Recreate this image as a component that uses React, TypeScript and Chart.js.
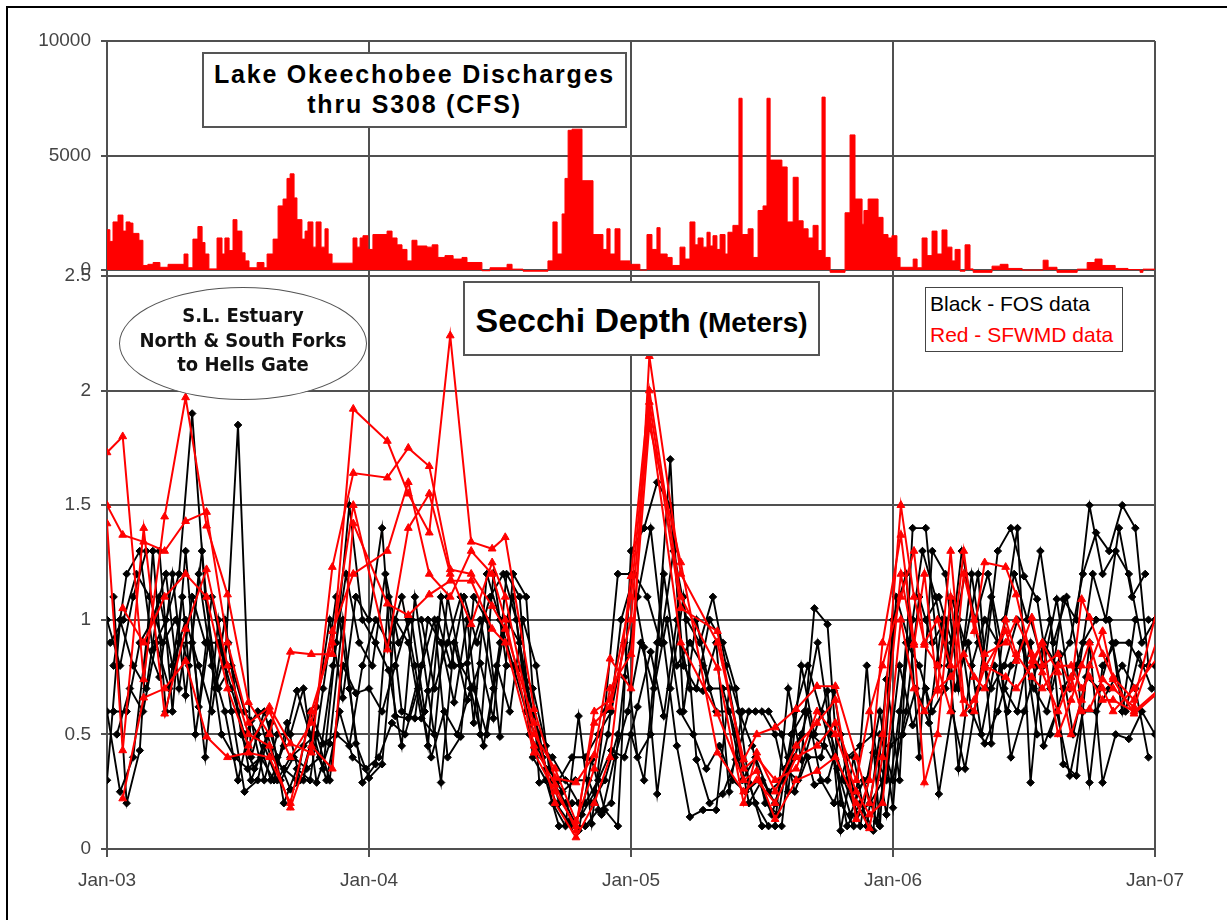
import React, { useEffect, useRef } from 'react';
import { Chart, registerables } from 'chart.js';

Chart.register(...registerables);

// ---------- tick labels ----------
const xTickValues = [2003, 2004, 2005, 2006, 2007];
const xTickLabels = ['Jan-03', 'Jan-04', 'Jan-05', 'Jan-06', 'Jan-07'];
const flowTickValues = [0, 5000, 10000];
const flowTickLabels = ['0', '5000', '10000'];
const secchiTickValues = [0, 0.5, 1, 1.5, 2, 2.5];
const secchiTickLabels = ['0', '0.5', '1', '1.5', '2', '2.5'];

// ---------- Lake Okeechobee discharge thru S308 (CFS) ----------
const dischargeDates = [
  2003.000, 2003.011, 2003.023, 2003.042, 2003.061, 2003.073, 2003.088, 2003.099, 2003.122, 2003.137,
  2003.156, 2003.176, 2003.202, 2003.233, 2003.294, 2003.309, 2003.328, 2003.347, 2003.363, 2003.374,
  2003.389, 2003.420, 2003.439, 2003.450, 2003.466, 2003.481, 2003.496, 2003.515, 2003.527, 2003.542,
  2003.573, 2003.599, 2003.611, 2003.634, 2003.653, 2003.672, 2003.687, 2003.699, 2003.714, 2003.725,
  2003.744, 2003.756, 2003.767, 2003.786, 2003.798, 2003.817, 2003.832, 2003.844, 2003.859, 2003.939,
  2003.954, 2003.966, 2003.977, 2003.996, 2004.015, 2004.069, 2004.088, 2004.107, 2004.126, 2004.145,
  2004.164, 2004.183, 2004.221, 2004.241, 2004.263, 2004.290, 2004.321, 2004.355, 2004.374, 2004.431,
  2004.462, 2004.527, 2004.546, 2004.588, 2004.683, 2004.702, 2004.718, 2004.737, 2004.748, 2004.760,
  2004.775, 2004.813, 2004.855, 2004.893, 2004.908, 2004.920, 2004.939, 2004.958, 2004.996, 2005.034,
  2005.061, 2005.080, 2005.099, 2005.111, 2005.138, 2005.157, 2005.187, 2005.206, 2005.225, 2005.244,
  2005.256, 2005.275, 2005.290, 2005.302, 2005.313, 2005.328, 2005.340, 2005.359, 2005.370, 2005.389,
  2005.412, 2005.424, 2005.447, 2005.466, 2005.485, 2005.504, 2005.519, 2005.531, 2005.576, 2005.596,
  2005.619, 2005.638, 2005.657, 2005.676, 2005.695, 2005.714, 2005.729, 2005.741, 2005.760, 2005.817,
  2005.836, 2005.855, 2005.882, 2005.889, 2005.905, 2005.943, 2005.962, 2005.981, 2005.996, 2006.015,
  2006.027, 2006.077, 2006.092, 2006.111, 2006.130, 2006.149, 2006.168, 2006.187, 2006.206, 2006.225,
  2006.237, 2006.256, 2006.275, 2006.294, 2006.306, 2006.378, 2006.409, 2006.439, 2006.493, 2006.573,
  2006.592, 2006.626, 2006.703, 2006.741, 2006.771, 2006.798, 2006.848, 2006.897, 2006.943, 2006.954,
  2007.000,
];
const dischargeCfs = [
  1760, 1250, 2100, 2400, 1700, 2100, 2050, 1600, 1300, 200,
  250, 330, 120, 250, 700, 100, 1350, 1900, 1200, 700,
  50, 1400, 700, 1400, 850, 2200, 1700, 750, 400, 100,
  330, 100, 700, 1350, 2800, 3100, 4000, 4200, 3150, 2200,
  1350, 1700, 2100, 1000, 2100, 1000, 1800, 700, 300, 1400,
  1000, 1400, 1500, 900, 1550, 1700, 1400, 1100, 900, 400,
  1300, 1050, 1000, 1100, 550, 630, 480, 550, 330, -30,
  100, 250, 40, -50, 400, 2100, 700, 2450, 4000, 6100,
  6150, 3900, 1550, 900, 1800, 700, 1800, 400, 250, 0,
  1550, 900, 1850, 700, 550, 200, 1000, 480, 2100, 1100,
  1400, 1000, 1650, 1050, 1500, 900, 1550, 700, 1650, 1950,
  7500, 1550, 1800, 550, 2600, 2800, 7500, 4800, 4500, 2100,
  4050, 2150, 1800, 1400, 1950, 850, 7550, 550, -100, 2500,
  5900, 3100, 2000, 2600, 3100, 2300, 1550, 1400, 1500, 550,
  120, 480, 100, 1400, 630, 1700, 700, 1750, 1000, 400,
  900, -50, 1100, 50, -100, 170, 250, 70, 0, 430,
  120, -100, 40, 330, 480, 200, 70, 20, -100, 40,
  40,
];

// ---------- Secchi depth, FOS stations (black) ----------
const fosDatesA = [
  2003.00, 2003.05, 2003.10, 2003.15, 2003.20, 2003.25, 2003.30, 2003.35, 2003.40, 2003.45,
  2003.50, 2003.55, 2003.60, 2003.65, 2003.70, 2003.75, 2003.80, 2003.85, 2003.90, 2003.95,
  2004.00, 2004.05, 2004.10, 2004.15, 2004.20, 2004.25, 2004.30, 2004.35, 2004.40, 2004.45,
  2004.50, 2004.55, 2004.60, 2004.65, 2004.70, 2004.75, 2004.80, 2004.85, 2004.90, 2004.95,
  2005.00, 2005.05, 2005.10, 2005.15, 2005.20, 2005.25, 2005.30, 2005.35, 2005.40, 2005.45,
  2005.50, 2005.55, 2005.60, 2005.65, 2005.70, 2005.75, 2005.80, 2005.85, 2005.90, 2005.95,
  2006.00, 2006.05, 2006.10, 2006.15, 2006.20, 2006.25, 2006.30, 2006.35, 2006.40, 2006.45,
  2006.50, 2006.55, 2006.60, 2006.65, 2006.70, 2006.75, 2006.80, 2006.85, 2006.90, 2006.95,
  2007.00,
];
const fosDatesB = [
  2003.025, 2003.075, 2003.125, 2003.175, 2003.225, 2003.275, 2003.325, 2003.375, 2003.425, 2003.475,
  2003.525, 2003.575, 2003.625, 2003.675, 2003.725, 2003.775, 2003.825, 2003.875, 2003.925, 2003.975,
  2004.025, 2004.075, 2004.125, 2004.175, 2004.225, 2004.275, 2004.325, 2004.375, 2004.425, 2004.475,
  2004.525, 2004.575, 2004.625, 2004.675, 2004.725, 2004.775, 2004.825, 2004.875, 2004.925, 2004.975,
  2005.025, 2005.075, 2005.125, 2005.175, 2005.225, 2005.275, 2005.325, 2005.375, 2005.425, 2005.475,
  2005.525, 2005.575, 2005.625, 2005.675, 2005.725, 2005.775, 2005.825, 2005.875, 2005.925, 2005.975,
  2006.025, 2006.075, 2006.125, 2006.175, 2006.225, 2006.275, 2006.325, 2006.375, 2006.425, 2006.475,
  2006.525, 2006.575, 2006.625, 2006.675, 2006.725, 2006.775, 2006.825, 2006.875, 2006.925, 2006.975,
];
const fosDatesC = [
  2003.0125, 2003.0625, 2003.1125, 2003.1625, 2003.2125, 2003.2625, 2003.3125, 2003.3625, 2003.4125, 2003.4625,
  2003.5125, 2003.5625, 2003.6125, 2003.6625, 2003.7125, 2003.7625, 2003.8125, 2003.8625, 2003.9125, 2003.9625,
  2004.0125, 2004.0625, 2004.1125, 2004.1625, 2004.2125, 2004.2625, 2004.3125, 2004.3625, 2004.4125, 2004.4625,
  2004.5125, 2004.5625, 2004.6125, 2004.6625, 2004.7125, 2004.7625, 2004.8125, 2004.8625, 2004.9125, 2004.9625,
  2005.0125, 2005.0625, 2005.1125, 2005.1625, 2005.2125, 2005.2625, 2005.3125, 2005.3625, 2005.4125, 2005.4625,
  2005.5125, 2005.5625, 2005.6125, 2005.6625, 2005.7125, 2005.7625, 2005.8125, 2005.8625, 2005.9125, 2005.9625,
  2006.0125, 2006.0625, 2006.1125, 2006.1625, 2006.2125, 2006.2625, 2006.3125, 2006.3625, 2006.4125, 2006.4625,
  2006.5125, 2006.5625, 2006.6125, 2006.6625, 2006.7125, 2006.7625, 2006.8125, 2006.8625, 2006.9125, 2006.9625,
];
const fosDatesD = [
  2003.0375, 2003.0875, 2003.1375, 2003.1875, 2003.2375, 2003.2875, 2003.3375, 2003.3875, 2003.4375, 2003.4875,
  2003.5375, 2003.5875, 2003.6375, 2003.6875, 2003.7375, 2003.7875, 2003.8375, 2003.8875, 2003.9375, 2003.9875,
  2004.0375, 2004.0875, 2004.1375, 2004.1875, 2004.2375, 2004.2875, 2004.3375, 2004.3875, 2004.4375, 2004.4875,
  2004.5375, 2004.5875, 2004.6375, 2004.6875, 2004.7375, 2004.7875, 2004.8375, 2004.8875, 2004.9375, 2004.9875,
  2005.0375, 2005.0875, 2005.1375, 2005.1875, 2005.2375, 2005.2875, 2005.3375, 2005.3875, 2005.4375, 2005.4875,
  2005.5375, 2005.5875, 2005.6375, 2005.6875, 2005.7375, 2005.7875, 2005.8375, 2005.8875, 2005.9375, 2005.9875,
  2006.0375, 2006.0875, 2006.1375, 2006.1875, 2006.2375, 2006.2875, 2006.3375, 2006.3875, 2006.4375, 2006.4875,
  2006.5375, 2006.5875, 2006.6375, 2006.6875, 2006.7375, 2006.7875, 2006.8375, 2006.8875, 2006.9375, 2006.9875,
];
const fosA1 = [
  1.0, 0.8, 1.1, 1.3, 1.3, 0.6, 1.3, 0.62, 1.1, 0.8, 1.85, 0.4, 0.6, 0.4, 0.26, 0.3, 0.62, 1.0, 0.66, 1.1,
  1.0, 1.4, 0.58, 0.57, 0.8, 1.0, 0.4, 0.49, 1.1, 1.0, 0.49, 1.2, 1.1, 0.29, 0.3, 0.2, 0.08, 0.39, 0.17, 0.1,
  1.3, 1.4, 1.6, 1.5, 0.8, 0.7, 1.0, 0.9, 0.7, 0.29, 0.1, 0.1, 0.7, 0.39, 1.05, 0.98, 0.2, 0.1, 0.8, 0.1,
  1.0, 1.2, 0.4, 1.3, 1.2, 0.7, 1.2, 0.8, 1.3, 1.4, 1.19, 1.09, 0.7, 1.09, 1.0, 1.5, 1.2, 1.3, 1.2, 0.9,
  1.0,
];
const fosA2 = [
  0.6, 0.25, 0.4, 0.9, 0.75, 1.2, 0.67, 1.2, 0.8, 0.6, 0.3, 0.56, 0.3, 0.5, 0.5, 0.7, 0.29, 0.46, 1.0, 0.46,
  0.31, 0.37, 1.0, 0.9, 0.57, 0.5, 1.1, 0.8, 0.7, 0.5, 0.9, 1.1, 0.7, 0.5, 0.2, 0.1, 0.58, 0.11, 0.6, 1.2,
  1.2, 0.88, 0.24, 0.7, 1.1, 0.39, 0.2, 0.24, 0.39, 0.6, 0.6, 0.5, 0.25, 0.8, 0.5, 0.69, 0.08, 0.4, 0.1, 0.5,
  0.3, 0.6, 1.1, 0.9, 1.0, 0.35, 0.8, 1.0, 0.9, 0.4, 0.6, 0.8, 1.0, 0.37, 0.32, 0.9, 0.29, 0.5, 0.48, 0.6,
  0.5,
];
const fosA3 = [
  0.3, 1.0, 0.8, 0.7, 1.1, 0.8, 1.0, 0.8, 0.6, 1.0, 0.6, 0.3, 0.45, 0.3, 0.4, 0.45, 0.5, 0.3, 0.8, 0.68,
  0.7, 0.6, 0.8, 1.0, 1.0, 0.7, 0.9, 1.1, 0.55, 1.2, 1.0, 0.8, 0.6, 0.45, 0.4, 0.3, 0.2, 0.2, 0.3, 0.5,
  0.5, 0.3, 0.9, 1.7, 0.6, 1.0, 0.7, 0.7, 0.5, 0.2, 0.3, 0.2, 0.4, 0.5, 0.28, 0.3, 0.5, 0.25, 0.3, 0.6,
  0.18, 0.9, 0.8, 0.6, 0.7, 1.0, 0.6, 0.46, 0.6, 0.8, 0.9, 0.5, 0.5, 0.7, 0.8, 0.29, 0.8, 0.9, 0.9, 0.8,
  0.8,
];
const fosB1 = [
  0.8, 1.2, 1.3, 0.87, 1.0, 1.2, 1.9, 1.1, 0.7, 0.8, 0.6, 0.5, 0.3, 0.45, 0.69, 0.5, 0.35, 0.9, 1.5, 1.0,
  0.9, 0.78, 0.45, 1.1, 0.69, 0.29, 0.9, 0.65, 0.81, 0.57, 1.2, 1.1, 0.4, 0.3, 0.1, 0.1, 0.1, 0.17, 0.2, 0.75,
  1.1, 1.4, 0.9, 0.45, 0.14, 0.17, 0.17, 0.7, 0.39, 0.2, 0.1, 0.1, 0.6, 0.8, 0.6, 0.4, 0.1, 0.2, 0.08, 0.74,
  0.3, 1.4, 1.4, 0.8, 1.09, 0.9, 1.2, 0.46, 1.0, 1.4, 0.29, 0.9, 0.8, 0.9, 1.2, 1.38, 1.3, 1.5, 1.4, 0.8,
];
const fosB2 = [
  1.1, 0.2, 0.43, 1.3, 0.6, 0.9, 0.9, 0.4, 1.0, 0.6, 0.25, 0.3, 0.55, 0.2, 0.35, 0.3, 0.7, 1.1, 0.7, 0.29,
  0.37, 1.1, 0.6, 0.57, 1.0, 0.9, 0.64, 1.0, 0.5, 1.2, 0.8, 0.79, 0.7, 0.45, 0.2, 0.2, 0.2, 0.3, 0.43, 0.4,
  0.62, 0.86, 0.58, 1.0, 0.7, 0.69, 0.9, 0.25, 0.6, 0.6, 0.6, 0.5, 0.25, 0.4, 0.4, 0.69, 0.3, 0.1, 0.42, 0.3,
  0.8, 0.54, 0.7, 0.24, 0.6, 0.35, 0.7, 1.1, 0.7, 0.6, 0.9, 0.45, 0.6, 0.32, 0.6, 0.6, 0.7, 0.8, 0.7, 0.4,
];
const fosB3 = [
  0.6, 0.6, 0.9, 1.0, 1.2, 0.7, 1.1, 0.9, 0.9, 0.7, 0.5, 0.6, 0.4, 0.35, 0.3, 0.6, 0.46, 0.5, 0.45, 0.8,
  1.0, 0.9, 1.1, 0.8, 0.45, 1.1, 0.8, 0.81, 1.0, 0.7, 1.0, 0.9, 0.59, 0.35, 0.3, 0.4, 0.4, 0.5, 0.6, 0.9,
  0.4, 0.5, 1.2, 0.8, 0.9, 0.8, 0.6, 0.6, 0.3, 0.4, 0.25, 0.3, 0.4, 0.6, 0.3, 0.2, 0.4, 0.45, 0.5, 0.15,
  0.6, 1.0, 1.0, 1.1, 0.9, 1.2, 0.9, 0.7, 0.8, 1.0, 1.0, 0.8, 1.09, 0.7, 0.9, 1.0, 1.0, 0.6, 1.0, 1.0,
];
const fosC1 = [
  0.9, 1.0, 1.2, 1.1, 0.9, 1.0, 0.8, 1.3, 0.7, 0.9, 0.5, 0.35, 0.5, 0.3, 0.4, 0.35, 0.4, 0.8, 1.2, 0.9,
  0.8, 1.2, 0.9, 1.0, 0.6, 1.0, 0.8, 1.1, 0.9, 1.1, 1.2, 1.0, 0.5, 0.4, 0.2, 0.12, 0.15, 0.25, 0.5, 1.0,
  1.2, 1.1, 0.9, 1.3, 1.0, 0.9, 1.1, 0.8, 0.6, 0.45, 0.2, 0.15, 0.5, 0.6, 0.9, 0.5, 0.3, 0.15, 0.2, 0.3,
  1.1, 0.9, 1.3, 1.1, 0.8, 1.3, 1.0, 1.2, 0.9, 1.2, 1.0, 1.3, 0.9, 1.1, 0.8, 1.2, 1.0, 1.4, 1.1, 1.2,
];
const fosC2 = [
  0.5, 0.7, 0.6, 0.9, 0.7, 1.1, 0.5, 0.9, 0.5, 0.4, 0.35, 0.4, 0.3, 0.55, 0.3, 0.5, 0.3, 0.6, 0.4, 0.35,
  0.4, 0.55, 0.5, 0.7, 0.4, 0.6, 0.5, 0.7, 0.45, 0.8, 0.6, 1.0, 0.8, 0.35, 0.25, 0.3, 0.3, 0.15, 0.4, 0.6,
  0.9, 0.7, 1.0, 0.6, 0.5, 0.35, 0.45, 0.3, 0.25, 0.3, 0.15, 0.35, 0.3, 0.5, 0.45, 0.35, 0.15, 0.3, 0.12, 0.45,
  0.5, 0.7, 0.55, 1.0, 0.7, 0.9, 0.5, 0.8, 0.6, 0.9, 0.7, 0.6, 0.85, 0.5, 0.75, 0.7, 0.9, 0.6, 0.85, 0.7,
];

// ---------- Secchi depth, SFWMD stations (red) ----------
const sfwmdDates = [
  2003.00, 2003.06, 2003.14, 2003.22, 2003.30, 2003.38, 2003.46, 2003.54, 2003.62, 2003.70, 2003.78, 2003.86, 2003.94,
  2004.07, 2004.15, 2004.23, 2004.31, 2004.39, 2004.47, 2004.52, 2004.63, 2004.71, 2004.79, 2004.86, 2004.92,
  2005.00, 2005.07, 2005.19, 2005.33, 2005.43, 2005.48, 2005.55, 2005.63, 2005.71, 2005.78, 2005.86, 2005.91, 2005.96,
  2006.03, 2006.08, 2006.12, 2006.17, 2006.22, 2006.27, 2006.31, 2006.35, 2006.43, 2006.47, 2006.53, 2006.57,
  2006.63, 2006.68, 2006.72, 2006.75, 2006.80, 2006.84, 2006.92, 2007.02,
];
const sfwmdR1 = [
  1.73, 1.80, 0.74, 1.45, 1.97, 1.41, 1.11, 0.64, 0.50, 0.86, 0.85, 0.85, 1.92,
  1.78, 1.55, 1.38, 2.24, 1.34, 1.31, 1.36, 0.61, 0.31, 0.29, 0.41, 0.83,
  0.70, 2.15, 1.20, 0.90, 0.39, 0.50, 0.53, 0.61, 0.71, 0.71, 0.40, 0.20, 0.50,
  1.50, 1.10, 0.90, 1.00, 0.80, 1.30, 0.95, 1.25, 1.23, 1.11, 0.82, 0.90, 0.77, 0.50, 0.65, 0.80, 0.95, 0.74, 0.59, 0.69,
];
const sfwmdR2 = [
  1.50, 1.37, 1.34, 1.30, 1.43, 1.47, 0.90, 0.55, 0.62, 0.46, 0.42, 1.23, 1.64,
  1.62, 1.75, 1.67, 1.22, 1.20, 1.06, 0.96, 0.55, 0.20, 0.05, 0.20, 0.40,
  1.19, 2.00, 1.10, 0.79, 0.20, 0.42, 0.25, 0.45, 0.55, 0.65, 0.13, 0.30, 0.90,
  1.37, 0.90, 0.29, 0.50, 1.10, 0.59, 0.65, 0.79, 0.95, 0.82, 1.01, 0.80, 0.85, 0.70, 1.09, 1.01, 0.85, 0.75, 0.65, 1.10,
];
const sfwmdR3 = [
  1.42, 0.43, 1.40, 0.59, 0.96, 1.22, 0.80, 0.50, 0.45, 0.18, 0.45, 0.35, 1.42,
  1.07, 1.02, 1.11, 1.17, 1.17, 0.96, 0.90, 0.42, 0.25, 0.10, 0.55, 0.62,
  1.00, 1.90, 0.90, 0.59, 0.30, 0.34, 0.13, 0.30, 0.34, 0.40, 0.20, 0.09, 0.40,
  1.20, 0.89, 1.20, 0.69, 1.30, 0.65, 0.60, 0.85, 0.90, 1.00, 0.85, 0.77, 0.60, 0.75, 0.60, 0.61, 0.74, 0.70, 0.62, 0.95,
];
const sfwmdR4 = [
  null, 0.22, 0.66, 0.70, 0.82, 0.49, 0.40, 0.42, 0.40, 0.20, 0.60, 0.90, 1.50,
  0.87, 1.40, 1.55, 1.20, 0.98, 1.25, 1.10, 0.50, 0.35, 0.12, 0.35, 0.70,
  0.85, 1.85, 1.25, 0.42, 0.25, 0.30, 0.20, 0.40, 0.45, 0.55, 0.30, 0.60, 0.80,
  1.10, 1.30, 0.89, 0.80, 0.60, 1.20, 1.00, 0.80, 0.75, 0.70, 0.80, 0.90, 0.50, 0.65, 0.80, 0.90, 0.70, 0.60, 0.70, 0.85,
];
const sfwmdR5 = [
  null, 1.05, 0.90, 1.10, 1.20, 1.10, 0.70, 0.45, 0.60, 0.40, 0.55, 0.95, 1.20,
  1.30, 1.60, 1.20, 1.10, 1.30, 1.20, 1.00, 0.45, 0.28, 0.08, 0.60, 0.65,
  1.10, 1.95, 1.05, 0.95, 0.35, 0.40, 0.30, 0.35, 0.60, 0.50, 0.25, 0.15, 0.20,
  1.00, 0.70, 0.60, 0.70, 0.75, 0.85, 0.75, 0.70, 1.00, 0.85, 0.75, 0.70, 0.80, 0.80, 0.70, 0.75, 0.65, 0.65, 0.60, 0.70,
];

const FONT = "'Liberation Sans', Arial, Helvetica, sans-serif";
const NARROW = "'Liberation Sans Narrow', 'Arial Narrow', 'DejaVu Sans Condensed', sans-serif";
const GRID = '#505050';
const TICK_TEXT = '#444444';

function pairs(xs: number[], ys: (number | null)[]) {
  const out: { x: number; y: number }[] = [];
  xs.forEach((x, i) => {
    const y = ys[i];
    if (y !== null && y !== undefined) out.push({ x, y });
  });
  return out;
}

function fosDataset(label: string, xs: number[], ys: number[]) {
  return {
    type: 'line' as const,
    label,
    xAxisID: 'x',
    yAxisID: 'ySecchi',
    data: pairs(xs, ys),
    borderColor: '#000000',
    borderWidth: 1.9,
    pointStyle: 'rectRot' as const,
    pointRadius: 3.8,
    pointBackgroundColor: '#000000',
    pointBorderColor: '#000000',
    pointBorderWidth: 1,
    tension: 0,
    fill: false,
    order: 2,
  };
}

function sfwmdDataset(label: string, ys: (number | null)[]) {
  return {
    type: 'line' as const,
    label,
    xAxisID: 'x',
    yAxisID: 'ySecchi',
    data: pairs(sfwmdDates, ys),
    borderColor: '#ff0000',
    borderWidth: 2,
    pointStyle: 'triangle' as const,
    pointRadius: 4.5,
    pointBackgroundColor: '#ff0000',
    pointBorderColor: '#ff0000',
    pointBorderWidth: 1,
    tension: 0,
    fill: false,
    spanGaps: true,
    order: 1,
  };
}

export default function App() {
  const canvasRef = useRef<HTMLCanvasElement>(null);

  useEffect(() => {
    if (!canvasRef.current) return;
    const tickFont = { family: FONT, size: 19 };
    const chart = new Chart(canvasRef.current, {
      type: 'line',
      data: {
        datasets: [
          sfwmdDataset('SFWMD 1', sfwmdR1),
          sfwmdDataset('SFWMD 2', sfwmdR2),
          sfwmdDataset('SFWMD 3', sfwmdR3),
          sfwmdDataset('SFWMD 4', sfwmdR4),
          sfwmdDataset('SFWMD 5', sfwmdR5),
          fosDataset('FOS A1', fosDatesA, fosA1),
          fosDataset('FOS A2', fosDatesA, fosA2),
          fosDataset('FOS A3', fosDatesA, fosA3),
          fosDataset('FOS B1', fosDatesB, fosB1),
          fosDataset('FOS B2', fosDatesB, fosB2),
          fosDataset('FOS B3', fosDatesB, fosB3),
          fosDataset('FOS C1', fosDatesC, fosC1),
          fosDataset('FOS C2', fosDatesD, fosC2),
          {
            type: 'line',
            label: 'S308 discharge',
            xAxisID: 'x',
            yAxisID: 'yFlow',
            data: pairs(dischargeDates, dischargeCfs),
            stepped: true,
            fill: 'origin',
            backgroundColor: '#ff0000',
            borderColor: '#ff0000',
            borderWidth: 1,
            pointRadius: 0,
            order: 3,
          } as any,
        ],
      },
      options: {
        responsive: false,
        animation: false,
        events: [],
        layout: { padding: { left: 0, top: 41, right: 72, bottom: 0 } },
        plugins: {
          legend: { display: false },
          tooltip: { enabled: false },
          title: { display: false },
        },
        scales: {
          x: {
            type: 'linear',
            position: 'bottom',
            min: 2003,
            max: 2007,
            afterBuildTicks: (s: any) => {
              s.ticks = xTickValues.map((v) => ({ value: v }));
            },
            afterFit: (s: any) => {
              s.height = 71;
            },
            ticks: {
              autoSkip: false,
              maxRotation: 0,
              padding: 12,
              color: TICK_TEXT,
              font: tickFont,
              callback: (_v: any, i: number) => xTickLabels[i],
            },
            grid: { color: GRID, lineWidth: 2, tickLength: 8, drawTicks: true },
            border: { color: GRID, width: 2 },
          },
          ySecchi: {
            type: 'linear',
            position: 'left',
            stack: 'panels',
            stackWeight: 573,
            min: 0,
            max: 2.5,
            afterBuildTicks: (s: any) => {
              s.ticks = secchiTickValues.map((v) => ({ value: v }));
            },
            afterFit: (s: any) => {
              s.width = 107;
            },
            ticks: {
              padding: 10,
              color: TICK_TEXT,
              font: tickFont,
              callback: (_v: any, i: number) => secchiTickLabels[i],
            },
            grid: { color: GRID, lineWidth: 2, tickLength: 6 },
            border: { color: GRID, width: 2 },
          },
          yFlow: {
            type: 'linear',
            position: 'left',
            stack: 'panels',
            stackWeight: 235,
            min: -260,
            max: 10000,
            afterBuildTicks: (s: any) => {
              s.ticks = flowTickValues.map((v) => ({ value: v }));
            },
            afterFit: (s: any) => {
              s.width = 107;
            },
            ticks: {
              padding: 10,
              color: TICK_TEXT,
              font: tickFont,
              callback: (_v: any, i: number) => flowTickLabels[i],
            },
            grid: { color: GRID, lineWidth: 2, tickLength: 6 },
            border: { color: GRID, width: 2 },
          },
        } as any,
      },
    });
    return () => chart.destroy();
  }, []);

  return (
    <div
      style={{
        position: 'absolute',
        left: 0,
        top: 0,
        width: 1227,
        height: 920,
        background: '#ffffff',
        overflow: 'hidden',
        fontFamily: FONT,
      }}
    >
      <canvas
        ref={canvasRef}
        width={1227}
        height={920}
        style={{ position: 'absolute', left: 0, top: 0, width: 1227, height: 920 }}
      />
      {/* outer frame */}
      <div
        style={{
          position: 'absolute',
          left: 6,
          top: 6,
          width: 1400,
          height: 1100,
          borderLeft: '2px solid #000',
          borderTop: '2px solid #000',
          pointerEvents: 'none',
        }}
      />
      {/* discharge title box */}
      <div
        style={{
          position: 'absolute',
          left: 202,
          top: 52,
          width: 425,
          height: 76,
          boxSizing: 'border-box',
          border: '2px solid #555',
          background: '#fff',
          textAlign: 'center',
          fontWeight: 'bold',
          fontSize: 25,
          lineHeight: '30px',
          letterSpacing: '1.8px',
          paddingTop: 5,
          color: '#000',
          whiteSpace: 'nowrap',
        }}
      >
        <div>Lake Okeechobee Discharges</div>
        <div>thru S308 (CFS)</div>
      </div>
      {/* secchi title box */}
      <div
        style={{
          position: 'absolute',
          left: 463,
          top: 281,
          width: 357,
          height: 75,
          boxSizing: 'border-box',
          border: '2px solid #555',
          background: '#fff',
          textAlign: 'center',
          fontWeight: 'bold',
          lineHeight: '40px',
          paddingTop: 17,
          color: '#000',
          whiteSpace: 'nowrap',
        }}
      >
        <span style={{ fontSize: 34 }}>Secchi Depth</span>
        <span style={{ fontSize: 28 }}> (Meters)</span>
      </div>
      {/* ellipse annotation */}
      <div
        style={{
          position: 'absolute',
          left: 119,
          top: 287,
          width: 248,
          height: 113,
          boxSizing: 'border-box',
          border: '1.5px solid #555',
          borderRadius: '50%',
          background: '#fff',
          textAlign: 'center',
          fontFamily: NARROW,
          fontWeight: 'bold',
          fontSize: 20,
          lineHeight: '24.5px',
          paddingTop: 15,
          color: '#111',
          whiteSpace: 'nowrap',
        }}
      >
        <div>S.L. Estuary</div>
        <div>North &amp; South Forks</div>
        <div>to Hells Gate</div>
      </div>
      {/* legend box */}
      <div
        style={{
          position: 'absolute',
          left: 925,
          top: 287,
          width: 198,
          height: 65,
          boxSizing: 'border-box',
          border: '1.5px solid #444',
          background: '#fff',
          fontSize: 21,
          lineHeight: '31px',
          paddingLeft: 4,
          whiteSpace: 'nowrap',
        }}
      >
        <div style={{ color: '#000' }}>Black - FOS data</div>
        <div style={{ color: '#ff0000' }}>Red - SFWMD data</div>
      </div>
    </div>
  );
}
